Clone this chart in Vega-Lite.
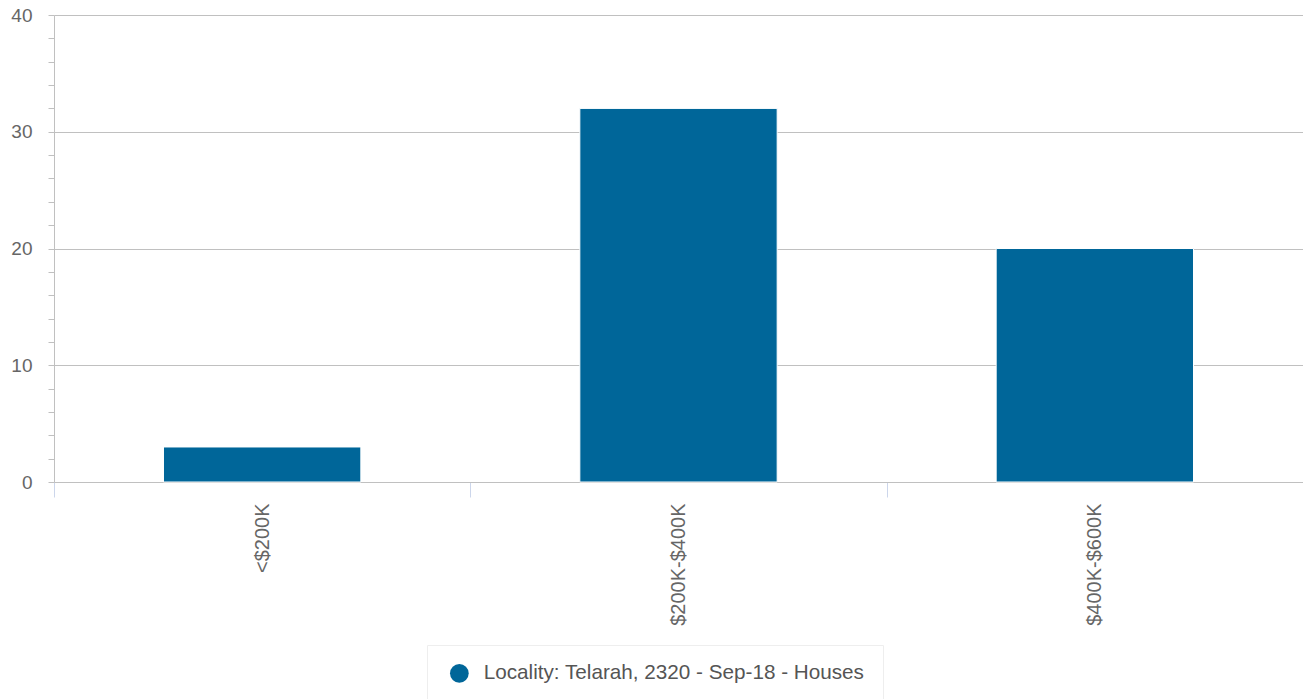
{
  "$schema": "https://vega.github.io/schema/vega-lite/v6.json",
  "width": 1249,
  "height": 467,
  "autosize": {"type": "none"},
  "padding": {"left": 54, "top": 15, "right": 0, "bottom": 217},
  "background": "#ffffff",
  "config": {
    "view": {"stroke": null},
    "font": "Liberation Sans"
  },
  "data": {
    "values": [
      {"range": "<$200K", "count": 3, "series": "Locality: Telarah, 2320 - Sep-18 - Houses"},
      {"range": "$200K-$400K", "count": 32, "series": "Locality: Telarah, 2320 - Sep-18 - Houses"},
      {"range": "$400K-$600K", "count": 20, "series": "Locality: Telarah, 2320 - Sep-18 - Houses"}
    ]
  },
  "mark": {"type": "bar", "width": {"band": 0.474}, "stroke": "#ffffff", "strokeWidth": 1},
  "encoding": {
    "x": {
      "field": "range",
      "type": "nominal",
      "sort": null,
      "scale": {"paddingInner": 0, "paddingOuter": 0},
      "axis": {
        "title": null,
        "labelAngle": -90,
        "labelFontSize": 20,
        "labelColor": "#666666",
        "labelPadding": 6,
        "tickBand": "extent",
        "tickSize": 15,
        "tickColor": "#ccd6eb",
        "tickWidth": 1,
        "domainColor": "#c0c0c0",
        "domainWidth": 1,
        "grid": false
      }
    },
    "y": {
      "field": "count",
      "type": "quantitative",
      "scale": {"domain": [0, 40], "nice": false},
      "axis": {
        "title": null,
        "values": [0, 2, 4, 6, 8, 10, 12, 14, 16, 18, 20, 22, 24, 26, 28, 30, 32, 34, 36, 38, 40],
        "labelExpr": "datum.value % 10 === 0 ? datum.label : ''",
        "labelFontSize": 19,
        "labelColor": "#666666",
        "labelPadding": 16,
        "tickSize": 6,
        "tickColor": "#c0c0c0",
        "domainColor": "#c0c0c0",
        "grid": true,
        "gridColor": "#c0c0c0",
        "gridOpacity": {"condition": {"test": "datum.value % 10 === 0", "value": 1}, "value": 0}
      }
    },
    "color": {
      "field": "series",
      "type": "nominal",
      "scale": {"range": ["#006699"]},
      "legend": {
        "title": null,
        "orient": "none",
        "legendX": 373,
        "legendY": 630,
        "symbolType": "circle",
        "symbolSize": 350,
        "symbolStrokeWidth": 0,
        "symbolOffset": 4,
        "labelFontSize": 20.7,
        "labelLimit": 600,
        "labelColor": "#555555",
        "labelOffset": 14,
        "padding": 18,
        "strokeColor": "#eeeeee",
        "fillColor": "#ffffff"
      }
    }
  }
}
